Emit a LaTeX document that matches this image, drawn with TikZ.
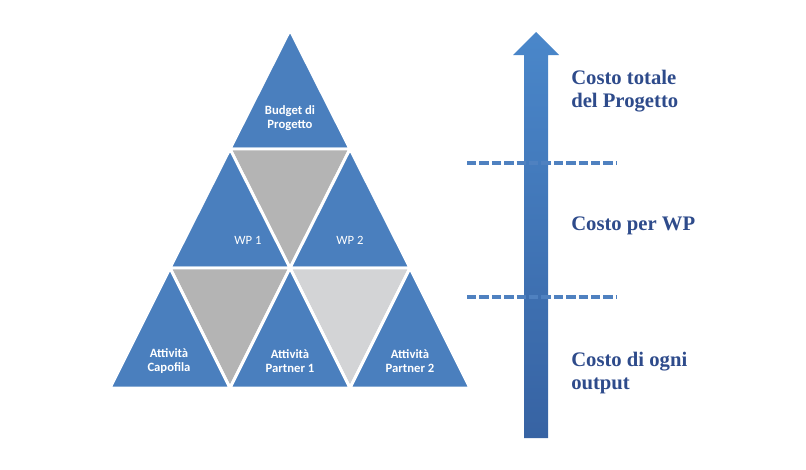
\documentclass[tikz,border=0pt]{standalone}
\usepackage{fontspec}
\setmainfont{Liberation Serif}
\newfontfamily\carlito{Carlito}
\usetikzlibrary{positioning}

\definecolor{triblue}{HTML}{4A7FBE}
\definecolor{trigray}{HTML}{B4B4B4}
\definecolor{trilight}{HTML}{D3D4D6}
\definecolor{costoblue}{HTML}{2E4B8B}
\definecolor{arrowtop}{HTML}{4A87CA}
\definecolor{arrowbot}{HTML}{3763A3}
\definecolor{dashblue}{HTML}{4F81C0}

\begin{document}
\begin{tikzpicture}[x=0.75pt, y=-0.75pt,
        tri/.style={fill=triblue, draw=white, line width=2.2pt, line join=miter},
        inv/.style={fill=trigray, draw=white, line width=2.2pt, line join=miter},
        lbl/.style={text=white, font=\carlito\bfseries\fontsize{9.5}{11}\selectfont, align=center},
        costo/.style={text=costoblue, font=\bfseries\fontsize{15.5}{17.5}\selectfont, align=left, anchor=west, inner sep=0pt},
        level/.style={draw=dashblue, line width=3pt, dash pattern=on 7pt off 2.3pt}]
    \useasboundingbox (0,0) rectangle (806,469);

    % Pyramid
    \path[tri] (290,30) -- (230,149) -- (350,149) -- cycle;
    \path[inv] (230,149) -- (350,149) -- (290,268) -- cycle;
    \path[tri] (230,149) -- (170,268) -- (290,268) -- cycle;
    \path[tri] (350,149) -- (290,268) -- (410,268) -- cycle;
    \path[inv] (170,268) -- (290,268) -- (230,388) -- cycle;
    \path[inv, fill=trilight] (290,268) -- (410,268) -- (350,388) -- cycle;
    \path[tri] (170,268) -- (110,388) -- (230,388) -- cycle;
    \path[tri] (290,268) -- (230,388) -- (350,388) -- cycle;
    \path[tri] (410,268) -- (350,388) -- (470,388) -- cycle;

    % Triangle labels
    \node[lbl] (budget) at (290,118) {Budget di\\Progetto};
    \node[lbl, font=\carlito\fontsize{9.5}{11}\selectfont] (wp1) at (248,240) {WP 1};
    \node[lbl, font=\carlito\fontsize{9.5}{11}\selectfont] (wp2) at (350,240) {WP 2};
    \node[lbl] (capofila) at (169,361) {Attività\\Capofila};
    \node[lbl] (partner1) at (290,361) {Attività\\Partner 1};
    \node[lbl] (partner2) at (410,361) {Attività\\Partner 2};

    % Cost arrow
    \shade[top color=arrowtop, bottom color=arrowbot]
        (524,438) -- (524,55) -- (513,55) -- (536,32) -- (559,55) -- (548,55) -- (548,438) -- cycle;

    % Levels
    \draw[level] (467,163) -- (617,163);
    \draw[level] (467,297) -- (617,297);

    % Cost labels
    \node[costo] (totale) at (571,91) {Costo totale\\del Progetto};
    \node[costo] (perwp) at (571,226) {Costo per WP};
    \node[costo] (output) at (571,373) {Costo di ogni\\output};
\end{tikzpicture}
\end{document}
